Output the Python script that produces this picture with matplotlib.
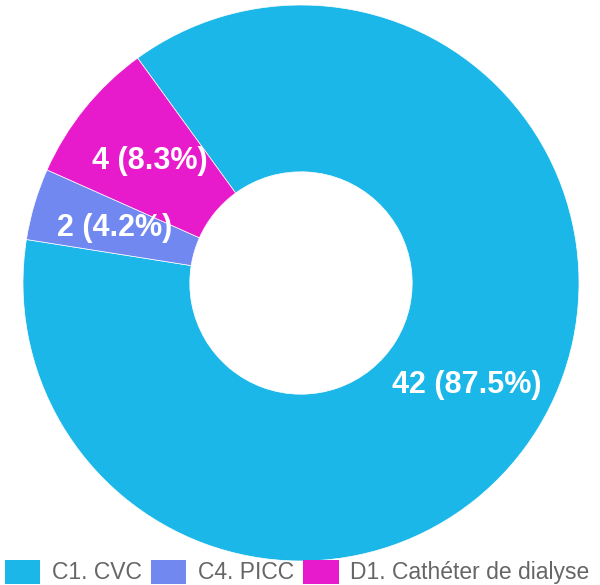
import numpy as np
import matplotlib
matplotlib.use("Agg")
import matplotlib.pyplot as plt
from matplotlib.patches import Patch

plt.rcParams['font.family'] = ['Liberation Sans', 'DejaVu Sans']

categories = ["C1. CVC", "C4. PICC", "D1. Cathéter de dialyse"]
counts = [42, 2, 4]
colors = ["#1bb7e9", "#7188f1", "#e81bcc"]

total = sum(counts)

fig = plt.figure(figsize=(6.0, 5.85), dpi=100)
ax = fig.add_axes([23 / 600, 24 / 585, 556 / 600, 556 / 585])

wedges, _ = ax.pie(counts, colors=colors, radius=1.0, startangle=126,
                   counterclock=False,
                   wedgeprops=dict(width=0.6, edgecolor="white", linewidth=0.5))
ax.set_xlim(-1, 1)
ax.set_ylim(-1, 1)
ax.set_aspect("equal")
ax.axis("off")

# value labels in the middle of each ring segment
for w, n in zip(wedges, counts):
    mid = np.deg2rad((w.theta1 + w.theta2) / 2)
    r = 0.7
    ax.text(r * np.cos(mid), r * np.sin(mid), f"{n} ({n / total * 100:.1f}%)",
            ha="center", va="center", color="white", fontsize=22, fontweight="bold")

handles = [Patch(facecolor=c, edgecolor="none") for c in colors]
fig.legend(handles, categories, loc="center", bbox_to_anchor=(0.495, 13 / 585),
           ncol=3, frameon=False, fontsize=16.5, labelcolor="#666666",
           handlelength=1.55, handleheight=1.25, handletextpad=0.5,
           columnspacing=0.4, borderaxespad=0, borderpad=0)

fig.savefig("out.png", dpi=100)
